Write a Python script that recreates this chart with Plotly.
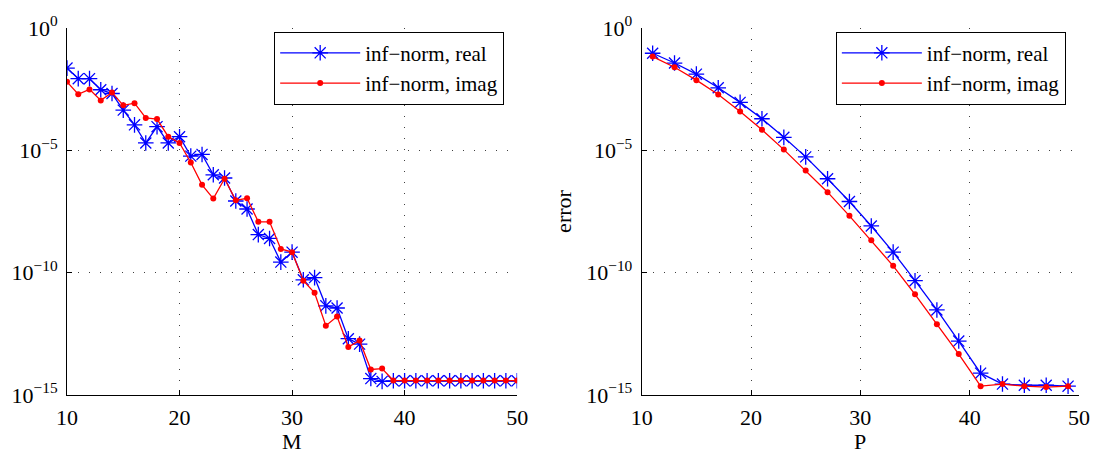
import plotly.graph_objects as go

# ---- data ----
M = list(range(10, 51))
left_real = [2.3e-2, 8.5e-3, 8.5e-3, 3.0e-3, 2.1e-3, 4.4e-4, 1.1e-4, 2.0e-5, 9.3e-5, 2.0e-5,
             3.6e-5, 5.8e-6, 6.8e-6, 1.0e-6, 7.4e-7, 8.5e-8, 4.0e-8, 3.6e-9, 2.5e-9, 2.7e-10,
             6.9e-10, 5.1e-11, 6.3e-11, 4.4e-12, 3.6e-12, 2.0e-13, 1.2e-13, 4.7e-15, 3.6e-15, 3.8e-15,
             3.8e-15, 3.8e-15, 3.8e-15, 3.8e-15, 3.8e-15, 3.8e-15, 3.8e-15, 3.8e-15, 3.8e-15, 3.8e-15,
             3.8e-15]
left_imag = [6.3e-3, 1.95e-3, 3.1e-3, 1.1e-3, 2.3e-3, 6.9e-4, 8.5e-4, 2.1e-4, 1.9e-4, 3.6e-5,
             2.0e-5, 3.2e-6, 3.9e-7, 1.07e-7, 6.9e-7, 9.1e-8, 1.1e-7, 1.2e-8, 1.2e-8, 9.3e-10,
             6.9e-10, 4.7e-11, 1.5e-11, 6.8e-13, 1.6e-12, 9.1e-14, 1.7e-13, 1.1e-14, 1.2e-14, 3.9e-15,
             3.9e-15, 3.9e-15, 3.9e-15, 3.9e-15, 3.9e-15, 3.9e-15, 3.9e-15, 3.9e-15, 3.9e-15, 3.9e-15,
             3.9e-15]

P = list(range(11, 50, 2))
right_real = [9.3e-2, 3.7e-2, 1.3e-2, 3.6e-3, 9.1e-4, 1.95e-4, 3.4e-5, 5.4e-6, 6.9e-7, 8.1e-8,
              8.1e-9, 6.9e-10, 4.7e-11, 3.0e-12, 1.6e-13, 7.8e-15, 2.8e-15, 2.5e-15, 2.5e-15, 2.3e-15]
right_imag = [6.8e-2, 2.5e-2, 7.4e-3, 1.9e-3, 3.9e-4, 6.9e-5, 1.07e-5, 1.5e-6, 1.95e-7, 2.1e-8,
              2.1e-9, 1.9e-10, 1.3e-11, 7.8e-13, 4.7e-14, 2.3e-15, 2.8e-15, 2.3e-15, 2.1e-15, 2.3e-15]

series_names = ["inf\u2212norm, real", "inf\u2212norm, imag"]
x_ticks = [10, 20, 30, 40, 50]
y_tickvals = [1, 1e-5, 1e-10, 1e-15]
y_ticktext = ["10<sup>0</sup>", "10<sup>\u22125</sup>", "10<sup>\u221210</sup>", "10<sup>\u221215</sup>"]
x_titles = ["M", "P"]
y_title = "error"

FONT = "Liberation Serif, Times New Roman, serif"
BLUE = "rgb(0,0,255)"
RED = "rgb(255,0,0)"

fig = go.Figure()

def add_pair(x, real, imag, xa, ya, legend):
    fig.add_trace(go.Scatter(
        x=x, y=real, mode="lines+markers", name=series_names[0],
        line=dict(color=BLUE, width=1.3),
        marker=dict(symbol="asterisk-open", size=13, color=BLUE, line=dict(color=BLUE, width=1.3)),
        xaxis=xa, yaxis=ya, legend=legend))
    fig.add_trace(go.Scatter(
        x=x, y=imag, mode="lines+markers", name=series_names[1],
        line=dict(color=RED, width=1.3),
        marker=dict(symbol="circle", size=6, color=RED),
        xaxis=xa, yaxis=ya, legend=legend))

add_pair(M, left_real, left_imag, "x", "y", "legend")
add_pair(P, right_real, right_imag, "x2", "y2", "legend2")

axis_common = dict(
    showline=True, linecolor="black", linewidth=1, mirror=False,
    ticks="inside", ticklen=5, tickcolor="black",
    showgrid=True, gridcolor="rgba(0,0,0,0.75)", gridwidth=1, griddash="1px,10px",
    zeroline=False,
    tickfont=dict(family=FONT, size=22, color="black"),
)

XD1 = [0, 0.4448]
XD2 = [0.5679, 1.0]

fig.update_layout(
    width=1102, height=455,
    margin=dict(l=62, r=17, t=20, b=60),
    paper_bgcolor="white", plot_bgcolor="white",
    font=dict(family=FONT, size=22, color="black"),
    xaxis=dict(domain=XD1, range=[10, 50], tickvals=x_ticks, anchor="y", ticklabelstandoff=3,
               **axis_common),
    yaxis=dict(domain=[0, 1], type="log", range=[-15, 0], tickvals=y_tickvals, ticktext=y_ticktext,
               anchor="x", ticklabelstandoff=4, **axis_common),
    xaxis2=dict(domain=XD2, range=[10, 50], tickvals=x_ticks, anchor="y2", ticklabelstandoff=3,
                **axis_common),
    yaxis2=dict(domain=[0, 1], type="log", range=[-15, 0], tickvals=y_tickvals, ticktext=y_ticktext,
                anchor="x2", ticklabelstandoff=4,
                title=dict(text=y_title, font=dict(family=FONT, size=22), standoff=8),
                **axis_common),
    legend=dict(x=0.432, y=0.99, xanchor="right", yanchor="top",
                bgcolor="white", bordercolor="black", borderwidth=1,
                font=dict(family=FONT, size=21), itemwidth=80, tracegroupgap=0),
    legend2=dict(x=0.987, y=0.99, xanchor="right", yanchor="top",
                 bgcolor="white", bordercolor="black", borderwidth=1,
                 font=dict(family=FONT, size=21), itemwidth=80, tracegroupgap=0),
)

# x-axis titles placed under each panel
for dom, txt in zip([XD1, XD2], x_titles):
    fig.add_annotation(text=txt, xref="paper", yref="paper", x=(dom[0] + dom[1]) / 2, y=-0.128,
                       xanchor="center", yanchor="middle", showarrow=False,
                       font=dict(family=FONT, size=22, color="black"))

fig.write_html("out.html", config={"displayModeBar": False},
               post_script="document.body.style.margin='0';")
